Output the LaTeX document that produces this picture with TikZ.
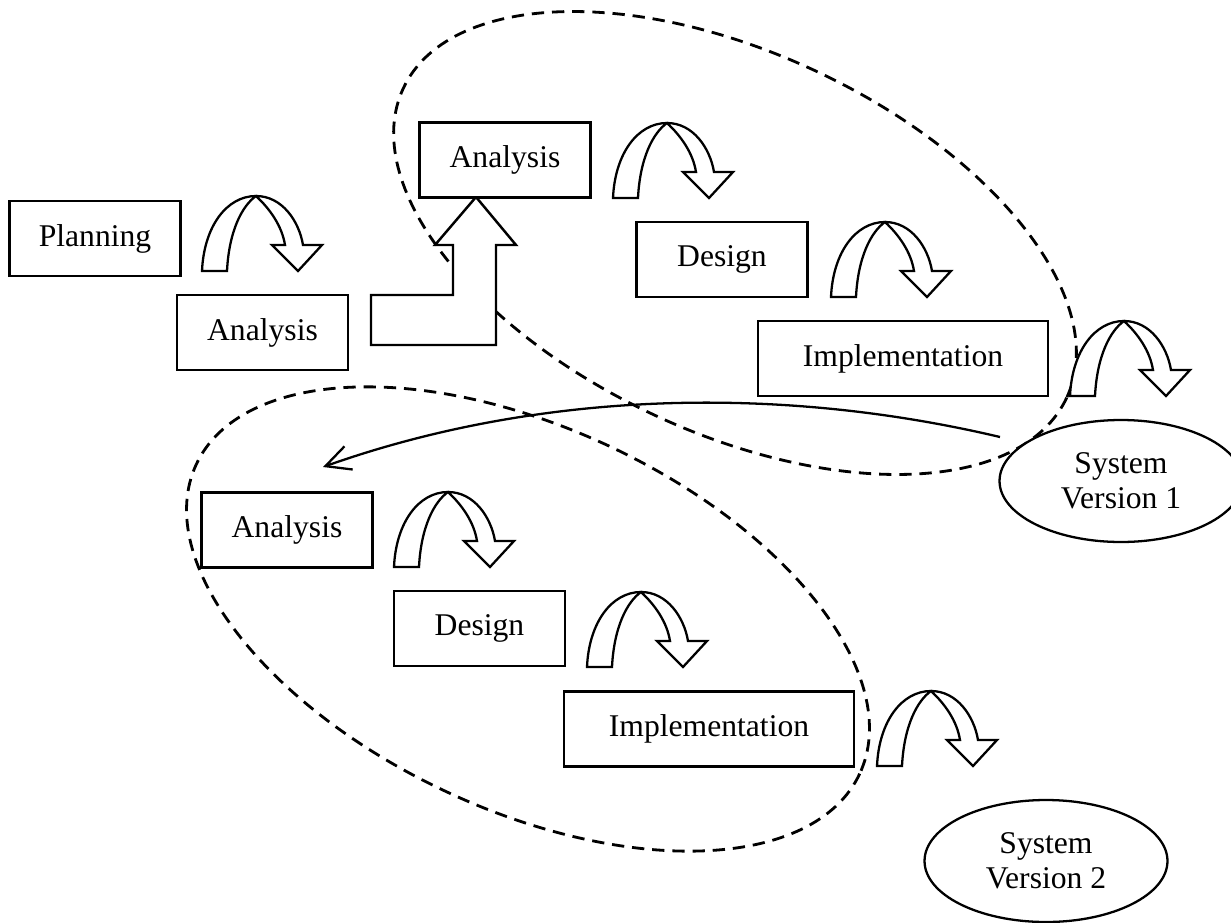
\documentclass[tikz,border=0pt]{standalone}
\usepackage{fontspec}
\setmainfont{Liberation Serif}
\usetikzlibrary{shapes.geometric,arrows.meta}

\begin{document}
\begin{tikzpicture}[x=0.02cm,y=-0.02cm,
    font=\fontsize{18}{20}\selectfont,
    phase/.style={draw,rectangle,line width=1.4pt,fill=white,minimum width=3.42cm,minimum height=1.5cm,inner sep=0pt},
    widephase/.style={phase,minimum width=5.8cm},
    release/.style={draw,ellipse,line width=1.3pt,fill=white,minimum width=4.86cm,minimum height=2.44cm,inner sep=0pt,align=center},
    loopline/.style={draw,line width=1.6pt,dash pattern=on 7pt off 4.5pt},
    bendarrow/.pic={
        \draw[line width=1.3pt,fill=white]
            (0,0) .. controls (2,-45) and (25,-75) .. (54,-75)
            .. controls (80,-75) and (97,-50) .. (101,-26)
            -- (120,-26) -- (96,0) -- (70,-26) -- (83,-26)
            .. controls (80,-45) and (68,-62) .. (54,-75)
            .. controls (40,-65) and (27,-40) .. (25,0) -- cycle;
    }]
    \useasboundingbox (0,0) rectangle (1231,923);

    % the two iterations
    \draw[loopline,rotate around={-25:(735,243)}] (735,243) ellipse [x radius=366,y radius=190];
    \draw[loopline,rotate around={-25:(528,619)}] (528,619) ellipse [x radius=366,y radius=191];

    % feedback from version 1
    \coordinate (fromsv1) at (1000,437);
    \coordinate (toana3) at (323,467);
    \draw[line width=1.3pt,-{Straight Barb[length=14pt,width=14pt]}]
        (fromsv1) .. controls (780,385) and (540,390) .. (toana3);

    % step up into the first iteration
    \draw[line width=1.4pt,fill=white] (371,295) -- (453,295) -- (453,245) -- (435,245)
        -- (476,197) -- (516,245) -- (496,245) -- (496,345) -- (371,345) -- cycle;

    \pic at (202,271) {bendarrow};
    \pic at (613,198) {bendarrow};
    \pic at (831,297) {bendarrow};
    \pic at (1070,396) {bendarrow};
    \pic at (394,567) {bendarrow};
    \pic at (587,667) {bendarrow};
    \pic at (877,766) {bendarrow};

    \node (plan) [phase] at (95,238.5) {Planning};
    \node (ana1) [phase] at (262.5,332.5) {Analysis};
    \node (ana2) [phase] at (505,160) {Analysis};
    \node (des2) [phase] at (722,259.5) {Design};
    \node (imp2) [widephase] at (903,358.5) {Implementation};
    \node (sv1) [release] at (1121,481) {System\\Version 1};
    \node (ana3) [phase] at (287,530) {Analysis};
    \node (des3) [phase] at (479.5,628.5) {Design};
    \node (imp3) [widephase] at (709,729) {Implementation};
    \node (sv2) [release] at (1046,861) {System\\Version 2};
\end{tikzpicture}
\end{document}
